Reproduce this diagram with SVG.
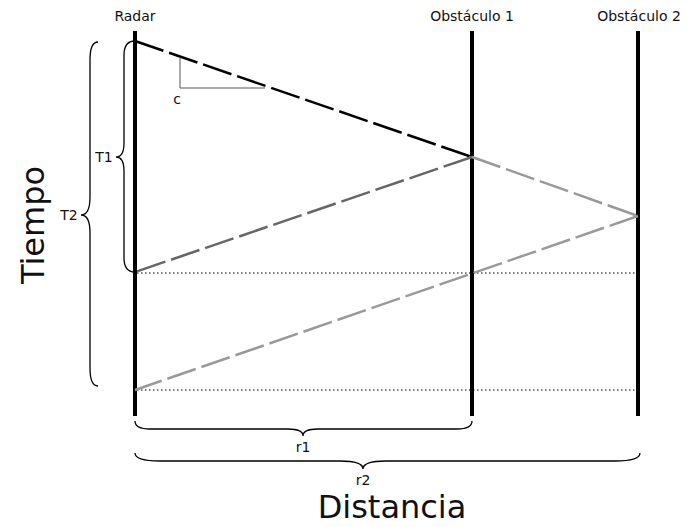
<svg xmlns="http://www.w3.org/2000/svg" width="694" height="527" viewBox="0 0 694 527">
<style>
text{font-family:"DejaVu Sans",sans-serif;fill:#111}
.lbl{font-size:14px;text-anchor:middle}
.big{font-size:32px;text-anchor:middle}
.axis{stroke:#000;stroke-width:4;fill:none}
.brace{stroke:#000;stroke-width:1.3;fill:none}
.dot{stroke:#000;stroke-width:1;stroke-dasharray:1.5,2.5;fill:none}
.ray{stroke-width:2.5;fill:none;stroke-dasharray:30,6}
</style>
<rect width="694" height="527" fill="#fff"/>
<g id="radar">
<line class="axis" x1="135" y1="31" x2="135" y2="416"/>
<text class="lbl" x="135" y="21">Radar</text>
</g>
<g id="obstaculo1">
<line class="axis" x1="472" y1="31" x2="472" y2="416"/>
<text class="lbl" x="472" y="21">Obstáculo 1</text>
</g>
<g id="obstaculo2">
<line class="axis" x1="638" y1="31" x2="638" y2="416"/>
<text class="lbl" x="639" y="21">Obstáculo 2</text>
</g>
<g id="connectors">
<line class="dot" x1="137" y1="273" x2="636" y2="273"/>
<line class="dot" x1="137" y1="390" x2="636" y2="390"/>
<line class="ray" stroke="#000" x1="135" y1="41" x2="472" y2="157"/>
<line class="ray" stroke="#666" x1="472" y1="157" x2="135" y2="272"/>
<line class="ray" stroke="#999" x1="472" y1="157" x2="638" y2="216"/>
<line class="ray" stroke="#999" x1="638" y1="216" x2="135" y2="390"/>
</g>
<g id="slope">
<polyline fill="none" stroke="#555" stroke-width="1" points="180,57 180,88 265,88"/>
<text class="lbl" x="177" y="104">c</text>
</g>
<g id="T1">
<path class="brace" d="M135,41 Q124,41 124,55 L124,143 Q124,157 116,157 Q124,157 124,171 L124,258 Q124,272 135,272"/>
<text class="lbl" x="104" y="162">T1</text>
</g>
<g id="T2">
<path class="brace" d="M98,42 Q90,42 90,60 L90,197 Q90,215 81,215 Q90,215 90,233 L90,368 Q90,386 98,386"/>
<text class="lbl" x="69" y="220">T2</text>
</g>
<g id="r1">
<path class="brace" d="M135,421 Q135,429 150,429 L288,429 Q303,429 303,436 Q303,429 318,429 L457,429 Q472,429 472,421"/>
<text class="lbl" x="303" y="452">r1</text>
</g>
<g id="r2">
<path class="brace" d="M135,453 Q135,461 160,461 L340,461 Q363,461 363,469 Q363,461 386,461 L615,461 Q640,461 640,453"/>
<text class="lbl" x="363" y="485">r2</text>
</g>
<text class="big" x="392" y="518">Distancia</text>
<text class="big" transform="translate(44,225) rotate(-90)">Tiempo</text>
</svg>
